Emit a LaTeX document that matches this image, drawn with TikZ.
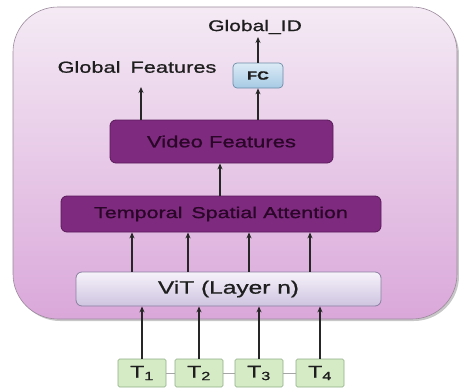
\documentclass[tikz,border=0pt]{standalone}
\usepackage{fontspec}
\setmainfont[FakeStretch=1.36,FakeBold=0.9]{Liberation Sans}
\usetikzlibrary{arrows.meta}
\definecolor{outerTop}{HTML}{F4EAF4}
\definecolor{outerBot}{HTML}{DAA8DA}
\definecolor{outerLine}{HTML}{9C8A9C}
\definecolor{purpFill}{HTML}{7E2A7E}
\definecolor{purpLine}{HTML}{5A1A5A}
\definecolor{purpText}{HTML}{2A0628}
\definecolor{vitTop}{HTML}{F6F2FA}
\definecolor{vitBot}{HTML}{CEC4E0}
\definecolor{vitLine}{HTML}{8A80A0}
\definecolor{tFill}{HTML}{D4EBC6}
\definecolor{tLine}{HTML}{8FAE84}
\definecolor{fcTop}{HTML}{DCEBF6}
\definecolor{fcBot}{HTML}{A6CAE4}
\definecolor{fcLine}{HTML}{6C8CA8}
\definecolor{txt}{HTML}{1E1E1E}
\tikzset{
  box/.style={inner sep=0pt, minimum width=#1},
  purpbox/.style={draw=purpLine, fill=purpFill, line width=0.8pt, rounded corners=6pt, text=purpText},
  vitbox/.style={draw=vitLine, top color=vitTop, bottom color=vitBot, line width=0.8pt, rounded corners=6pt, text=txt},
  tbox/.style={draw=tLine, fill=tFill, line width=0.7pt, rounded corners=1.5pt, inner sep=0pt, minimum width=48pt, minimum height=28pt, font=\fontsize{17}{20}\selectfont, text=txt},
  fcbox/.style={draw=fcLine, top color=fcTop, bottom color=fcBot, line width=0.7pt, rounded corners=4pt, text=txt},
  lbl/.style={inner sep=0pt, text=txt},
  arr/.style={-{Stealth[length=6pt,width=5pt]}, line width=1.5pt, black!85},
  link/.style={draw=gray!70, line width=0.9pt}
}
\begin{document}
\begin{tikzpicture}[x=1pt,y=-1pt]
\useasboundingbox (0,0) rectangle (459,388);
% outer container
\fill[black!22, rounded corners=45pt] (15,10) rectangle (459,321);
\node[draw=outerLine, top color=outerTop, bottom color=outerBot, rounded corners=45pt, line width=0.6pt, inner sep=0pt, minimum width=444pt, minimum height=312pt] (outer) at (235,163) {};
% texts
\node[lbl, font=\fontsize{15.5}{18}\selectfont] (gid) at (255,27) {Global\_ID};
\node[lbl, font=\fontsize{16}{19}\selectfont] (gf) at (137,67) {Global\hspace{4pt} Features};
% boxes
\node[fcbox, box=50pt, minimum height=25pt, font=\bfseries\fontsize{12}{14}\selectfont] (fc) at (258,75.5) {FC};
\node[purpbox, box=223pt, minimum height=43pt, font=\fontsize{16.2}{19}\selectfont] (vf) at (221.5,141.5) {Video Features};
\node[purpbox, box=320pt, minimum height=36pt, font=\fontsize{15.8}{19}\selectfont] (tsa) at (221,214) {Temporal\hspace{9pt}Spatial Attention};
\node[vitbox, box=305pt, minimum height=34pt, font=\fontsize{18}{21}\selectfont] (vit) at (228.5,289) {ViT (Layer n)};
% tokens
\node[tbox] (t1) at (142,373) {T\textsubscript{1}};
\node[tbox] (t2) at (199,373) {T\textsubscript{2}};
\node[tbox] (t3) at (259,373) {T\textsubscript{3}};
\node[tbox] (t4) at (320,373) {T\textsubscript{4}};
\draw[link] (t1.east) -- (t2.west);
\draw[link] (t2.east) -- (t3.west);
\draw[link] (t3.east) -- (t4.west);
% arrows
\coordinate (gfin) at (141,87);
\coordinate (gidin) at (258,37);
\coordinate (vfin) at (220,0);
\draw[arr] (vf.north -| gfin) -- (gfin);
\draw[arr] (vf.north -| fc) -- (fc.south);
\draw[arr] (fc.north) -- (gidin);
\draw[arr] (tsa.north -| vfin) -- (vf.south -| vfin);
\foreach \x in {132,188,249,310}{
  \coordinate (a\x) at (\x,0);
  \draw[arr] (vit.north -| a\x) -- (tsa.south -| a\x);
}
\foreach \t in {t1,t2,t3,t4}{
  \draw[arr] (\t.north) -- (vit.south -| \t);
}
\end{tikzpicture}
\end{document}
